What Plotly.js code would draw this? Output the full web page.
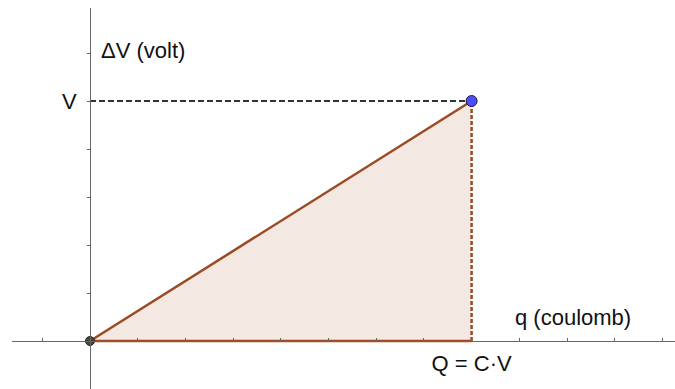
<!DOCTYPE html>
<html>
<head>
<meta charset="utf-8">
<script src="https://cdn.plot.ly/plotly-3.0.1.min.js"></script>
<style>html,body{margin:0;padding:0;background:#fff;}#chart{width:675px;height:389px;}</style>
</head>
<body>
<div id="chart"></div>
<script>
// Data (in graph units)
const chargeQ = 8;            // Q = C·V
const voltageV = 5;           // V
const triangleX = [0, chargeQ, chargeQ, 0];
const triangleY = [0, 0, voltageV, 0];
const lineX = [0, chargeQ];
const lineY = [0, voltageV];
const xTickVals = [-1, 1, 2, 3, 4, 5, 6, 7, 8, 9, 10, 11, 12];
const xTickText = ['', '', '', '', '', '', '', '', 'Q = C·V', '', '', '', ''];
const yTickVals = [-1, 1, 2, 3, 4, 5, 6];
const yTickText = ['', '', '', '', '', 'V', ''];

const brown = '#9a4a24';
const font = 'Liberation Sans, Arial, sans-serif';

const traces = [
  {x: triangleX, y: triangleY, mode: 'lines', fill: 'toself', fillcolor: '#f4e8e3',
   line: {width: 0, color: 'rgba(0,0,0,0)'}, hoverinfo: 'skip'},
  {x: [0, chargeQ], y: [voltageV, voltageV], mode: 'lines',
   line: {color: '#333', width: 1.8, dash: '6px,3px'}},
  {x: lineX, y: lineY, mode: 'lines', line: {color: brown, width: 2.5}},
  {x: lineX, y: [0, 0], mode: 'lines', line: {color: brown, width: 2.5}},
  {x: [chargeQ, chargeQ], y: [0, voltageV], mode: 'lines',
   line: {color: brown, width: 2.5, dash: '4px,2px'}},
  {x: [0], y: [0], mode: 'markers',
   marker: {size: 9, color: '#444', line: {color: '#222', width: 1}}},
  {x: [chargeQ], y: [voltageV], mode: 'markers',
   marker: {size: 11, color: '#4d4dff', line: {color: '#1a1a40', width: 1}}}
];

const layout = {
  width: 675, height: 389,
  margin: {l: 12, r: 0, t: 8, b: 0, pad: 0},
  paper_bgcolor: '#fff', plot_bgcolor: '#fff',
  showlegend: false,
  font: {family: font, color: '#111', size: 22},
  xaxis: {
    range: [-1.635, 12.264], anchor: 'free', position: 0.126,
    showgrid: false, zeroline: false, showline: true, linecolor: '#666', linewidth: 1.5,
    ticks: 'inside', ticklen: 3, tickcolor: '#666', tickwidth: 1,
    tickmode: 'array', tickvals: xTickVals, ticktext: xTickText,
    tickfont: {size: 22, family: font, color: '#111'}, ticklabelstandoff: 2
  },
  yaxis: {
    range: [-1, 6.9375], anchor: 'free', position: 0.1176,
    showgrid: false, zeroline: false, showline: true, linecolor: '#666', linewidth: 1.5,
    ticks: 'outside', ticklen: 3, tickcolor: '#666', tickwidth: 1,
    tickmode: 'array', tickvals: yTickVals, ticktext: yTickText,
    tickfont: {size: 22, family: font, color: '#111'}, ticklabelstandoff: 6
  },
  annotations: [
    {x: 0.19, y: 6.06, xref: 'x', yref: 'y', text: 'ΔV (volt)', showarrow: false,
     xanchor: 'left', yanchor: 'middle', font: {size: 22, family: font, color: '#111'}},
    {x: 8.87, y: 0.48, xref: 'x', yref: 'y', text: 'q (coulomb)', showarrow: false,
     xanchor: 'left', yanchor: 'middle', font: {size: 22, family: font, color: '#111'}}
  ]
};

Plotly.newPlot('chart', traces, layout, {displayModeBar: false, staticPlot: true});
</script>
</body>
</html>
